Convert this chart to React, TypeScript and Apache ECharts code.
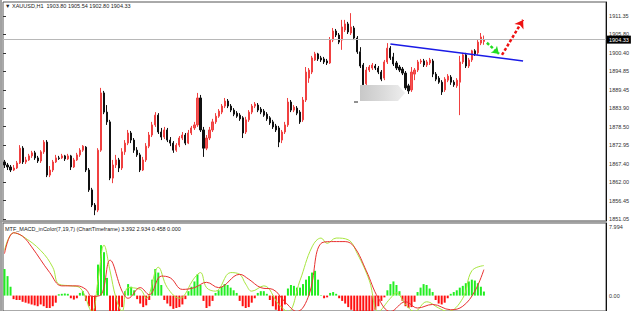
import React, { useEffect, useRef } from 'react';
import * as echarts from 'echarts';

// [open, close, low, high]
const candles: number[][] = [
  [1868.0, 1867.1, 1866.2, 1868.6], [1867.1, 1866.5, 1865.6, 1867.7], [1866.5, 1865.6, 1865.0, 1867.1], [1865.6, 1866.2, 1865.3, 1867.1],
  [1866.2, 1867.7, 1865.9, 1868.3], [1867.7, 1872.1, 1867.4, 1873.0], [1872.1, 1868.0, 1867.4, 1872.7], [1868.0, 1868.6, 1867.4, 1869.5],
  [1868.6, 1869.8, 1868.3, 1870.4], [1869.8, 1870.7, 1869.2, 1871.3], [1870.7, 1869.2, 1868.6, 1871.3], [1869.2, 1868.3, 1867.7, 1869.8],
  [1868.3, 1871.0, 1867.7, 1871.5], [1871.0, 1873.9, 1870.4, 1874.5], [1873.9, 1864.1, 1863.5, 1874.5], [1864.1, 1865.6, 1863.5, 1866.8],
  [1865.6, 1868.0, 1865.0, 1868.6], [1868.0, 1869.2, 1867.7, 1870.1], [1869.2, 1869.0, 1868.6, 1869.8], [1869.2, 1869.8, 1868.9, 1870.4],
  [1869.8, 1868.9, 1868.3, 1870.1], [1868.9, 1869.8, 1868.6, 1870.4], [1869.8, 1866.5, 1865.6, 1870.1], [1866.5, 1868.6, 1866.2, 1869.2],
  [1868.6, 1870.1, 1868.3, 1870.7], [1870.1, 1871.5, 1869.5, 1872.1], [1871.5, 1872.7, 1871.0, 1873.0], [1872.4, 1865.6, 1865.0, 1872.7],
  [1865.6, 1859.7, 1859.1, 1866.2], [1859.7, 1855.2, 1854.6, 1860.3], [1855.2, 1853.7, 1852.2, 1855.8], [1853.7, 1871.5, 1853.1, 1872.1],
  [1871.5, 1888.5, 1871.0, 1890.0], [1888.5, 1882.8, 1882.2, 1889.1], [1882.8, 1879.9, 1879.0, 1884.9], [1879.9, 1863.2, 1862.6, 1880.5],
  [1863.2, 1867.1, 1861.7, 1868.6], [1867.1, 1868.6, 1866.2, 1870.1], [1868.6, 1866.2, 1865.0, 1869.2], [1866.2, 1871.0, 1865.6, 1872.1],
  [1871.0, 1873.6, 1870.1, 1874.5], [1873.6, 1876.6, 1873.0, 1877.5], [1876.6, 1874.5, 1873.6, 1877.2], [1874.5, 1871.5, 1870.7, 1875.1],
  [1871.5, 1870.1, 1869.5, 1872.4], [1870.1, 1865.6, 1865.0, 1870.7], [1865.6, 1868.6, 1865.3, 1869.5], [1868.6, 1872.7, 1868.0, 1873.6],
  [1872.7, 1876.0, 1872.1, 1876.9], [1876.0, 1879.0, 1875.4, 1879.9], [1879.0, 1881.9, 1878.4, 1882.8], [1881.9, 1876.9, 1876.3, 1882.5],
  [1876.9, 1875.4, 1874.5, 1878.1], [1875.4, 1877.5, 1874.8, 1878.4], [1877.5, 1874.5, 1873.9, 1878.1], [1874.5, 1873.6, 1872.7, 1875.4],
  [1873.6, 1871.5, 1870.7, 1874.2], [1871.5, 1873.0, 1871.0, 1873.6], [1873.0, 1875.1, 1872.4, 1875.7], [1875.1, 1876.0, 1874.5, 1876.9],
  [1876.0, 1873.6, 1873.0, 1876.6], [1873.6, 1876.6, 1873.3, 1877.5], [1876.6, 1878.1, 1876.0, 1878.7], [1878.1, 1879.0, 1877.5, 1879.9],
  [1879.0, 1887.0, 1878.4, 1888.5], [1887.0, 1877.5, 1876.9, 1887.9], [1877.5, 1872.1, 1869.5, 1878.4], [1872.1, 1875.1, 1871.5, 1876.0],
  [1875.1, 1877.5, 1874.5, 1878.4], [1877.5, 1879.9, 1876.9, 1880.8], [1879.9, 1881.6, 1879.3, 1882.5], [1881.6, 1883.1, 1881.1, 1883.7],
  [1882.8, 1884.6, 1882.2, 1885.2], [1884.6, 1886.1, 1884.0, 1887.0], [1886.1, 1884.6, 1884.0, 1886.7], [1884.6, 1883.4, 1882.8, 1885.2],
  [1883.4, 1882.2, 1881.6, 1884.0], [1882.5, 1881.6, 1881.1, 1883.1], [1881.9, 1880.8, 1880.2, 1882.5], [1881.1, 1876.6, 1875.1, 1881.6],
  [1876.9, 1880.5, 1876.3, 1881.4], [1880.5, 1882.8, 1879.9, 1883.4], [1882.8, 1884.6, 1882.2, 1885.2], [1884.6, 1885.2, 1884.0, 1885.8],
  [1884.9, 1883.4, 1882.8, 1885.5], [1883.7, 1882.8, 1882.2, 1884.3], [1883.1, 1881.9, 1881.4, 1883.7], [1882.2, 1880.8, 1880.2, 1882.8],
  [1881.1, 1879.6, 1879.0, 1881.6], [1879.9, 1878.4, 1877.8, 1880.5], [1878.7, 1877.5, 1876.9, 1879.3], [1878.1, 1873.9, 1872.4, 1878.7],
  [1874.5, 1876.9, 1873.6, 1877.5], [1876.9, 1879.0, 1876.3, 1879.9], [1879.0, 1885.8, 1878.4, 1887.0], [1885.8, 1883.4, 1882.8, 1886.4],
  [1883.4, 1884.3, 1882.8, 1884.9], [1884.0, 1882.5, 1881.9, 1884.6], [1882.8, 1879.9, 1879.3, 1883.4], [1880.5, 1886.4, 1879.9, 1887.3],
  [1886.4, 1894.7, 1885.8, 1896.2], [1892.9, 1895.3, 1891.5, 1895.9], [1894.7, 1898.9, 1894.1, 1899.5], [1898.3, 1900.1, 1898.0, 1900.7],
  [1900.1, 1898.6, 1898.0, 1900.4], [1898.9, 1898.3, 1897.7, 1899.5], [1898.6, 1897.7, 1897.1, 1899.2], [1898.0, 1897.4, 1896.8, 1898.6],
  [1897.4, 1904.2, 1897.1, 1905.1], [1904.2, 1906.9, 1903.6, 1907.8], [1906.9, 1905.7, 1905.1, 1907.5], [1905.7, 1903.6, 1903.0, 1906.3],
  [1904.2, 1908.1, 1901.3, 1910.2], [1907.2, 1909.0, 1906.6, 1910.2], [1909.0, 1906.6, 1906.0, 1909.6], [1906.3, 1908.1, 1905.7, 1912.2],
  [1907.8, 1904.8, 1904.2, 1908.4], [1904.8, 1900.7, 1900.1, 1905.4], [1900.7, 1896.5, 1895.9, 1902.1], [1896.8, 1890.9, 1890.0, 1897.4],
  [1891.2, 1895.3, 1890.6, 1896.2], [1895.3, 1896.2, 1894.7, 1896.8], [1895.9, 1896.8, 1895.3, 1897.4], [1896.5, 1895.9, 1895.3, 1897.1],
  [1895.9, 1894.7, 1894.1, 1896.5], [1894.7, 1892.6, 1892.0, 1895.3], [1892.9, 1897.7, 1892.3, 1898.3], [1897.7, 1901.8, 1897.1, 1903.3],
  [1901.8, 1898.9, 1898.3, 1902.4], [1899.2, 1897.1, 1896.5, 1900.4], [1897.4, 1895.9, 1895.3, 1898.0], [1896.2, 1895.3, 1894.7, 1896.8],
  [1895.6, 1894.4, 1893.8, 1896.2], [1894.4, 1890.0, 1889.4, 1895.0], [1890.6, 1889.1, 1888.2, 1891.2], [1889.4, 1894.7, 1888.8, 1896.2],
  [1894.1, 1895.3, 1892.3, 1895.9], [1895.3, 1897.7, 1894.7, 1898.3], [1897.7, 1898.0, 1897.1, 1898.6], [1898.0, 1896.8, 1896.2, 1898.6],
  [1896.8, 1897.7, 1896.2, 1898.3], [1897.4, 1898.3, 1896.8, 1898.9], [1898.0, 1894.1, 1893.2, 1898.6], [1894.1, 1892.6, 1892.0, 1894.7],
  [1892.9, 1891.7, 1891.2, 1893.5], [1891.7, 1888.8, 1887.9, 1892.3], [1889.4, 1892.6, 1888.8, 1893.2], [1892.3, 1893.5, 1891.7, 1894.1],
  [1893.2, 1891.7, 1890.9, 1893.8], [1891.7, 1890.9, 1890.3, 1892.3], [1890.6, 1892.3, 1890.0, 1892.9], [1891.7, 1897.7, 1881.9, 1899.5],
  [1897.7, 1899.8, 1897.1, 1900.4], [1899.8, 1896.5, 1895.9, 1900.4], [1896.5, 1898.3, 1895.9, 1898.9], [1898.3, 1901.0, 1897.7, 1901.3],
  [1901.0, 1900.1, 1899.5, 1901.5], [1900.4, 1903.6, 1899.8, 1904.2], [1903.3, 1905.1, 1902.7, 1906.3], [1903.8, 1904.33, 1902.8, 1905.54],
];

const histogram: number[] = [
  3.0, 2.2, 1.0, -0.4, -0.5, -0.5, -0.7, -0.8, -0.9, -1.0,
  -1.1, -1.2, -1.0, -1.2, -1.4, -1.4, -1.2, -0.8, 0.15, 0.2,
  0.25, 0.2, -0.3, -0.45, -0.3, 0.3, 0.5, -0.6, -1.2, -1.9,
  -2.2, 3.5, 5.7, 4.9, 2.0, -2.0, -2.0, -2.0, -1.9, -1.3,
  0.5, 1.3, 1.0, 0.6, -0.4, -0.9, -1.3, -1.1, -0.5, 1.8,
  3.0, 2.6, 1.2, -0.5, -0.9, -1.2, -1.5, -1.4, -1.3, -1.0,
  -0.4, 0.5, 1.0, 1.6, 2.4, 1.2, -0.6, -1.4, -1.2, -0.6,
  0.3, 0.6, 1.0, 1.3, 1.2, 0.9, 0.6, 0.3, -0.6, -1.2,
  -1.4, -1.3, -0.8, -0.3, 0.3, 0.5, 0.5, 0.2, -0.5, -1.2,
  -1.6, -2.0, -1.8, -1.0, 0.8, 1.2, 1.1, 0.9, 0.9, 1.3,
  1.8, 2.2, 2.6, 2.8, 1.8, 0.05, -0.3, -0.2, 0.3, 0.4,
  0.2, -0.3, -0.6, -0.9, -1.3, -1.6, -1.8, -2.0, -2.0, -2.0,
  -2.0, -2.0, -1.9, -1.6, -1.2, -0.6, -0.2, 0.6, 1.3, 1.6,
  1.2, 0.5, -0.6, -1.2, -1.4, -1.3, -0.7, 0.4, 0.9, 1.3,
  1.2, 0.8, 0.4, -0.5, -0.9, -1.0, -0.8, -0.3, 0.2, 0.4,
  0.6, 0.9, 1.1, 1.4, 1.6, 1.8, 1.7, 1.4, 1.0, 0.458,
];

// [bar index, value]
const macdLine: number[][] = [
  [0, 5.1], [3, 7.1], [6, 6.7], [12, 5.1], [16, 3.2], [18, 1.3], [22, 1.1], [25, 0.9], [29, -1.8], [31, 1.7],
  [33, 5.7], [35, 2.8], [37, -0.3], [39, -1.8], [41, 0.9], [45, 0.7], [47, -0.3], [51, 3.2], [54, 0.9], [58, -0.3],
  [63, 2.0], [65, 2.6], [67, 0.9], [70, 0.5], [75, 2.6], [78, 2.4], [80, 1.3], [82, 0.5], [86, 1.1], [91, -1.0],
  [94, -1.8], [98, 1.7], [102, 5.5], [105, 6.5], [107, 5.9], [110, 6.5], [114, 6.3], [117, 4.75], [121, 1.7], [124, -1.8],
  [128, -0.3], [130, 0.3], [133, -1.0], [136, -1.8], [140, -0.7], [144, -1.4], [147, -1.8], [152, -0.3], [155, 2.8], [159, 3.392],
];

const signalLine: number[][] = [
  [0, 4.75], [3, 7.1], [6, 6.7], [9, 5.5], [15, 2.6], [19, 1.1], [24, 1.1], [27, 0.7], [29, -0.1], [32, 0.1],
  [35, 4.0], [39, 0.5], [41, -0.3], [45, 0.9], [48, 0.1], [52, 2.2], [55, 2.0], [59, 0.7], [63, 0.9], [67, 1.5],
  [71, 0.9], [78, 2.4], [81, 1.85], [85, 0.9], [89, 0.7], [93, -0.7], [97, -1.8], [101, 0.1], [105, 5.9], [109, 6.1],
  [113, 6.1], [116, 5.5], [120, 2.8], [124, -0.3], [128, -1.8], [133, -0.7], [137, -1.4], [142, -1.0], [148, -1.6], [152, -1.2],
  [156, 0.5], [159, 2.934],
];

const priceTickLabels = ['1851.05', '1856.45', '1862.00', '1867.40', '1872.95', '1878.50', '1883.90', '1889.45', '1894.85', '1900.40', '1905.80', '1911.35'];
const macdTickLabels = ['0.00', '7.994'];
const lastPrice = 1904.33;
const SLOTS = 200;
const categories = Array.from({ length: SLOTS }, (_, i) => String(i));

const trendLine = [[128, 1903.0], [172, 1898.0]];
const greenArrow = [[160, 1903.4], [164, 1900.1]];
const redArrow = [[165, 1899.8], [172, 1910.2]];

const FONT = '"Liberation Sans", "DejaVu Sans", sans-serif';

export default function App() {
  const ref = useRef<HTMLDivElement>(null);
  useEffect(() => {
    const chart = echarts.init(ref.current as HTMLDivElement, null, { renderer: 'svg' });
    const hiddenAxis = { show: false };
    const option: any = {
      animation: false,
      backgroundColor: '#ffffff',
      grid: [
        { left: 3, right: 26, top: 2, bottom: 90, show: true, borderColor: '#555', borderWidth: 1, backgroundColor: '#fff' },
        { left: 3, right: 26, top: 223, bottom: 0, show: true, borderColor: '#555', borderWidth: 1, backgroundColor: '#fff' },
        { left: 3, right: 26, top: 16, bottom: 92 },
        { left: 3, right: 26, top: 227, bottom: 15.4 },
      ],
      xAxis: [
        { type: 'category', gridIndex: 0, data: categories, boundaryGap: true, ...hiddenAxis },
        { type: 'category', gridIndex: 1, data: categories, boundaryGap: true, ...hiddenAxis },
        { type: 'value', gridIndex: 2, ...hiddenAxis },
        { type: 'value', gridIndex: 3, ...hiddenAxis },
      ],
      yAxis: [
        {
          type: 'value', gridIndex: 0, position: 'right', min: 1850.46, max: 1915.51, scale: true,
          axisLine: { show: true, lineStyle: { color: '#111' } }, axisLabel: { show: false }, axisTick: { show: false }, splitLine: { show: false },
        },
        {
          type: 'value', gridIndex: 1, position: 'right', min: -1.74, max: 8.2,
          axisLine: { show: true, lineStyle: { color: '#111' } }, axisLabel: { show: false }, axisTick: { show: false }, splitLine: { show: false },
        },
        {
          type: 'category', gridIndex: 2, position: 'right', data: priceTickLabels, boundaryGap: false,
          axisLine: { show: false }, axisTick: { show: true, length: 3, lineStyle: { color: '#333' } },
          axisLabel: { interval: 0, fontSize: 5.5, color: '#333', margin: 4, fontFamily: FONT }, splitLine: { show: false },
        },
        {
          type: 'category', gridIndex: 3, position: 'right', data: macdTickLabels, boundaryGap: false,
          axisLine: { show: false }, axisTick: { show: false },
          axisLabel: { interval: 0, fontSize: 5.5, color: '#333', margin: 3, fontFamily: FONT }, splitLine: { show: false },
        },
      ],
      series: [
        {
          type: 'candlestick', xAxisIndex: 0, yAxisIndex: 0, data: candles, barWidth: 1.6,
          itemStyle: { color: '#f45454', color0: '#111111', borderColor: '#f04040', borderColor0: '#111111', borderWidth: 1 },
          markLine: {
            silent: true, animation: false, symbol: ['none', 'none'],
            data: [
              {
                yAxis: lastPrice,
                lineStyle: { color: '#b8b8b8', width: 1, type: 'solid' },
                label: {
                  show: true, position: 'end', formatter: String(lastPrice), color: '#fff', backgroundColor: '#000',
                  fontSize: 5.5, fontFamily: FONT, padding: [1, 2], distance: 1,
                },
              },
              [
                { coord: trendLine[0], lineStyle: { color: '#1a1ae6', width: 1.5, type: 'solid' }, label: { show: false } },
                { coord: trendLine[1] },
              ],
              [
                { coord: greenArrow[0], symbol: 'none', lineStyle: { color: '#22dd22', width: 2.5, type: [3, 2] }, label: { show: false } },
                { coord: greenArrow[1], symbol: 'arrow', symbolSize: [7, 7] },
              ],
              [
                { coord: redArrow[0], symbol: 'none', lineStyle: { color: '#ee1111', width: 2.5, type: [3, 2] }, label: { show: false } },
                { coord: redArrow[1], symbol: 'arrow', symbolSize: [8, 8] },
              ],
            ],
          },
        },
        {
          type: 'bar', xAxisIndex: 1, yAxisIndex: 1, data: histogram, barWidth: 2,
          itemStyle: { color: (p: any) => (p.value >= 0 ? '#22ee22' : '#ff1010') },
        },
        {
          type: 'line', xAxisIndex: 1, yAxisIndex: 1, data: macdLine, showSymbol: false, smooth: 0.4,
          lineStyle: { color: '#a8e640', width: 1 },
        },
        {
          type: 'line', xAxisIndex: 1, yAxisIndex: 1, data: signalLine, showSymbol: false, smooth: 0.4,
          lineStyle: { color: '#e83030', width: 1 },
        },
      ],
      graphic: [
        { type: 'line', z: 100, shape: { x1: 1, y1: 0, x2: 1, y2: 311 }, style: { stroke: '#444', lineWidth: 1 } },
        { type: 'line', z: 100, shape: { x1: 0, y1: 221.5, x2: 606, y2: 221.5 }, style: { stroke: '#999', lineWidth: 2 } },
        {
          type: 'text', z: 100, x: 5, y: 3,
          style: { text: '▼ XAUUSD,H1  1903.80 1905.54 1902.80 1904.33', fontSize: 5.5, fontFamily: FONT, fill: '#222' },
        },
        {
          type: 'text', z: 100, x: 5, y: 225.5,
          style: { text: 'MTF_MACD_inColor(7,19,7) (ChartTimeframe) 3.392 2.934 0.458 0.000', fontSize: 5.5, fontFamily: FONT, fill: '#222' },
        },
        {
          type: 'polygon', z: 100,
          shape: { points: [[360, 85], [398, 85], [405, 93], [398, 101], [360, 101]] },
          style: {
            fill: new echarts.graphic.LinearGradient(0, 0, 1, 0, [
              { offset: 0, color: '#c8c8c8' },
              { offset: 0.5, color: '#dadada' },
              { offset: 1, color: '#eeeeee' },
            ]),
          },
        },
        { type: 'line', z: 100, shape: { x1: 354, y1: 102, x2: 358, y2: 102 }, style: { stroke: '#222', lineWidth: 1 } },
      ],
    };
    chart.setOption(option);
    return () => chart.dispose();
  }, []);
  return <div ref={ref} style={{ position: 'absolute', left: 0, top: 0, width: 632, height: 311 }} />;
}
